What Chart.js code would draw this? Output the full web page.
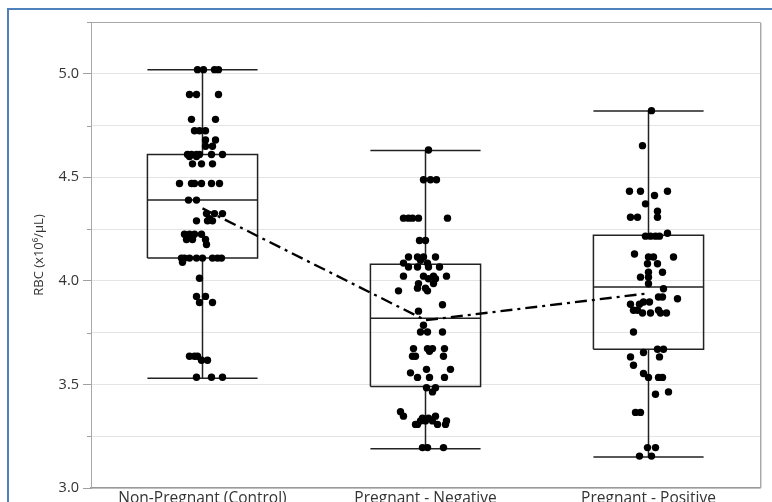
<!DOCTYPE html>
<html>
<head>
<meta charset="utf-8">
<script src="https://cdn.jsdelivr.net/npm/chart.js@4/dist/chart.umd.min.js"></script>
<style>
  html, body { margin: 0; padding: 0; background: #fff; overflow: hidden; }
  #wrap { position: relative; width: 772px; height: 502px; overflow: hidden; }
  #frame { position: absolute; left: 7px; top: 8px; width: 900px; height: 900px;
           border: 2px solid #4f81bd; box-sizing: border-box; pointer-events: none; }
  canvas { position: absolute; left: 0; top: 0; }
</style>
</head>
<body>
<div id="wrap">
  <canvas id="c" width="772" height="520"></canvas>
  <div id="frame"></div>
</div>
<script>
// Groups on the x axis
const categories = ['Non-Pregnant (Control)', 'Pregnant - Negative', 'Pregnant - Positive'];

// Box-and-whisker summaries per group (RBC, x10^6/µL)
const whiskerLow  = [3.53, 3.19, 3.15];
const quartile1   = [4.11, 3.49, 3.67];
const medians     = [4.39, 3.82, 3.97];
const quartile3   = [4.61, 4.08, 4.22];
const whiskerHigh = [5.02, 4.63, 4.82];
const means       = [4.35, 3.81, 3.94];

// Individual observations: values and horizontal jitter (in category widths)
const controlValues = [5.02,5.02,5.02,5.02, 4.90,4.90,4.90, 4.78,4.78, 4.725,4.725,4.725, 4.68,4.68, 4.65,4.65,
  4.61,4.61,4.61,4.61,4.61,4.61, 4.60,4.60, 4.565,4.565,4.565, 4.47,4.47,4.47,4.47,4.47,4.47, 4.39,4.39,
  4.325,4.325,4.325, 4.30, 4.29,4.29,4.29, 4.225,4.225,4.225,4.225, 4.20,4.20,4.20, 4.176,
  4.11,4.11,4.11,4.11,4.11,4.11,4.11,4.11, 4.09, 4.013, 3.925,3.925, 3.896,3.896,
  3.636,3.636,3.636, 3.617,3.617, 3.535,3.535,3.535];
const controlJitter = [-5,1,12,16, -13,-6,16, -11,13, -8,-3,3, 3,13, 3,10,
  -15,-11,-6,-3,9,20, -13,-6, -10,-1,10, -23,-11,-8,-1,9,17, -14,-6,
  4,12,20, 7, -6,5,10, -18,-13,-8,-1, -16,-10,3, 4,
  -21,-18,-13,-6,0,10,15,19, -20, -3, -6,3, -3,10,
  -13,-8,-5, -1,5, -6,9,20].map(d => d / 223);

const negativeValues = [4.632, 4.488,4.488,4.488, 4.303,4.303,4.303,4.303,4.303, 4.195,4.195,
  4.115,4.115,4.115,4.115, 4.10, 4.086,4.086, 4.067,4.067,4.067,4.067, 4.023,4.023,4.023,4.023,
  4.01,4.01, 3.987,3.987, 3.965,3.965, 3.952,3.952, 3.885, 3.854, 3.786, 3.753,3.753,3.753,
  3.673,3.673,3.673,3.673, 3.66, 3.636,3.636,3.636, 3.573,3.573, 3.556, 3.534,3.534,3.534,
  3.484,3.484, 3.464, 3.368, 3.347,3.347, 3.337,3.337, 3.324,3.324,3.324,3.324,
  3.307,3.307,3.307,3.307, 3.195,3.195,3.195];
const negativeJitter = [3, -2,5,11, -22,-17,-13,-7,22, -6,0,
  -17,-8,-2,10, -5, -22,2, -17,-8,3,14, -22,-2,8,21,
  3,10, -7,8, -8,0, -27,2, 17, -7, -2, -5,2,17,
  -12,2,7,19, 4, -13,-10,18, 1,25, -15, -8,4,19,
  1,10, 7, -25, -22,10, -3,3, -5,0,7,21,
  -10,-8,12,20, -3,2,18].map(d => d / 223);

const positiveValues = [4.822, 4.653, 4.433,4.433,4.433, 4.412, 4.372, 4.336, 4.307,4.307,4.307,
  4.23, 4.216,4.216,4.216,4.216, 4.13, 4.115,4.115,4.115, 4.083,4.083, 4.042,4.042, 4.018,4.018,
  3.986, 3.962, 3.922,3.922, 3.914, 3.898,3.898, 3.887,3.887, 3.858,3.858,3.858,
  3.845,3.845,3.845,3.845, 3.753, 3.67,3.67, 3.654, 3.633,3.633, 3.593, 3.553,
  3.534,3.534,3.534, 3.464, 3.453, 3.365,3.365, 3.195,3.195, 3.154,3.154];
const positiveJitter = [3, -6, -19,-8,19, 6, -3, 9, -18,-11,9,
  19, -3,2,7,11, -14, 0,5,25, -1,9, 0,14, -8,0,
  0, 15, 10,14, 29, -5,1, -18,-9, -15,-11,10,
  -6,2,12,18, -15, 9,15, -5, -18,11, -15, -5,
  0,10,14, 20, 7, -13,-8, -1,7, -9,3].map(d => d / 223);

const yTicksMajor = [3.0, 3.5, 4.0, 4.5, 5.0];

const groupValues = [controlValues, negativeValues, positiveValues];
const groupJitter = [controlJitter, negativeJitter, positiveJitter];

const HALF_BOX = 0.247; // half box width, in category units

// Box outline, median, whiskers and caps as one broken polyline per group
function boxOutline(i) {
  const l = i - HALF_BOX, r = i + HALF_BOX;
  const gap = { x: i, y: null };
  return [
    { x: l, y: quartile1[i] }, { x: r, y: quartile1[i] }, { x: r, y: quartile3[i] },
    { x: l, y: quartile3[i] }, { x: l, y: quartile1[i] }, gap,
    { x: l, y: medians[i] }, { x: r, y: medians[i] }, gap,
    { x: i, y: quartile3[i] }, { x: i, y: whiskerHigh[i] }, gap,
    { x: l, y: whiskerHigh[i] }, { x: r, y: whiskerHigh[i] }, gap,
    { x: i, y: quartile1[i] }, { x: i, y: whiskerLow[i] }, gap,
    { x: l, y: whiskerLow[i] }, { x: r, y: whiskerLow[i] }
  ];
}

const datasets = [];
categories.forEach((_, i) => {
  datasets.push({
    type: 'line',
    data: boxOutline(i),
    borderColor: '#222',
    borderWidth: 1.5,
    pointRadius: 0,
    spanGaps: false,
    order: 3
  });
});
categories.forEach((_, i) => {
  datasets.push({
    type: 'scatter',
    data: groupValues[i].map((v, k) => ({ x: i + groupJitter[i][k], y: v })),
    backgroundColor: '#000',
    borderColor: '#000',
    borderWidth: 0,
    pointRadius: 3.7,
    order: 2
  });
});
datasets.push({
  type: 'line',
  data: means.map((m, i) => ({ x: i, y: m })),
  borderColor: '#000',
  borderWidth: 2.3,
  borderDash: [12, 5, 3, 5],
  pointRadius: 0,
  order: 1
});

// Plot frame (top/right edges) and short minor ticks on the value axis
const framePlugin = {
  id: 'frame',
  afterDraw(chart) {
    const { ctx, chartArea: a, scales: { y } } = chart;
    ctx.save();
    ctx.strokeStyle = '#a8a8a8';
    ctx.lineWidth = 1;
    ctx.beginPath();
    ctx.moveTo(a.left, a.top + 0.5);
    ctx.lineTo(a.right + 0.5, a.top + 0.5);
    ctx.lineTo(a.right + 0.5, a.bottom);
    ctx.stroke();
    ctx.strokeStyle = '#d6d6d6';
    ctx.beginPath();
    ctx.moveTo(a.right + 1.5, a.top + 1);
    ctx.lineTo(a.right + 1.5, a.bottom);
    ctx.stroke();
    ctx.strokeStyle = '#a0a0a0';
    ctx.beginPath();
    y.ticks.forEach(t => {
      if (!yTicksMajor.some(m => Math.abs(m - t.value) < 1e-6)) {
        const py = Math.round(y.getPixelForValue(t.value)) + 0.5;
        ctx.moveTo(a.left - 4, py);
        ctx.lineTo(a.left, py);
      }
    });
    ctx.stroke();
    ctx.restore();
  }
};

const isMajor = v => yTicksMajor.some(m => Math.abs(m - v) < 1e-6);

new Chart(document.getElementById('c'), {
  data: { datasets },
  plugins: [framePlugin],
  options: {
    responsive: false,
    animation: false,
    devicePixelRatio: 1,
    layout: { padding: { left: 20, top: 22, right: 12, bottom: 0 } },
    plugins: { legend: { display: false }, tooltip: { enabled: false } },
    scales: {
      x: {
        type: 'linear',
        min: -0.5,
        max: 2.5,
        afterBuildTicks(scale) { scale.ticks = categories.map((_, i) => ({ value: i })); },
        afterFit(scale) { scale.height = 32; },
        grid: { display: false, drawTicks: false },
        border: { color: '#999', width: 1.5 },
        ticks: {
          padding: 1,
          color: '#333',
          font: { family: 'Open Sans', size: 15.5 },
          callback: v => categories[v] ?? ''
        }
      },
      y: {
        min: 3.0,
        max: 5.25,
        afterFit(scale) { scale.width = 71; },
        afterBuildTicks(scale) {
          const t = [];
          for (let v = 3.0; v <= 5.25 + 1e-9; v += 0.25) t.push({ value: Math.round(v * 100) / 100 });
          scale.ticks = t;
        },
        grid: {
          color: '#e4e4e4',
          lineWidth: 1,
          tickLength: 8,
          tickColor: c => (c.tick && isMajor(c.tick.value)) ? '#a0a0a0' : 'rgba(0,0,0,0)'
        },
        border: { color: '#a8a8a8', width: 1 },
        ticks: {
          padding: 4,
          color: '#333',
          font: { family: 'Open Sans', size: 14.5 },
          callback: v => isMajor(v) ? v.toFixed(1) : ''
        },
        title: {
          display: true,
          text: 'RBC (x10\u2076/\u00b5L)',
          color: '#333',
          font: { family: 'Open Sans', size: 13 },
          padding: { top: 11, bottom: 0 }
        }
      }
    }
  }
});
</script>
</body>
</html>
